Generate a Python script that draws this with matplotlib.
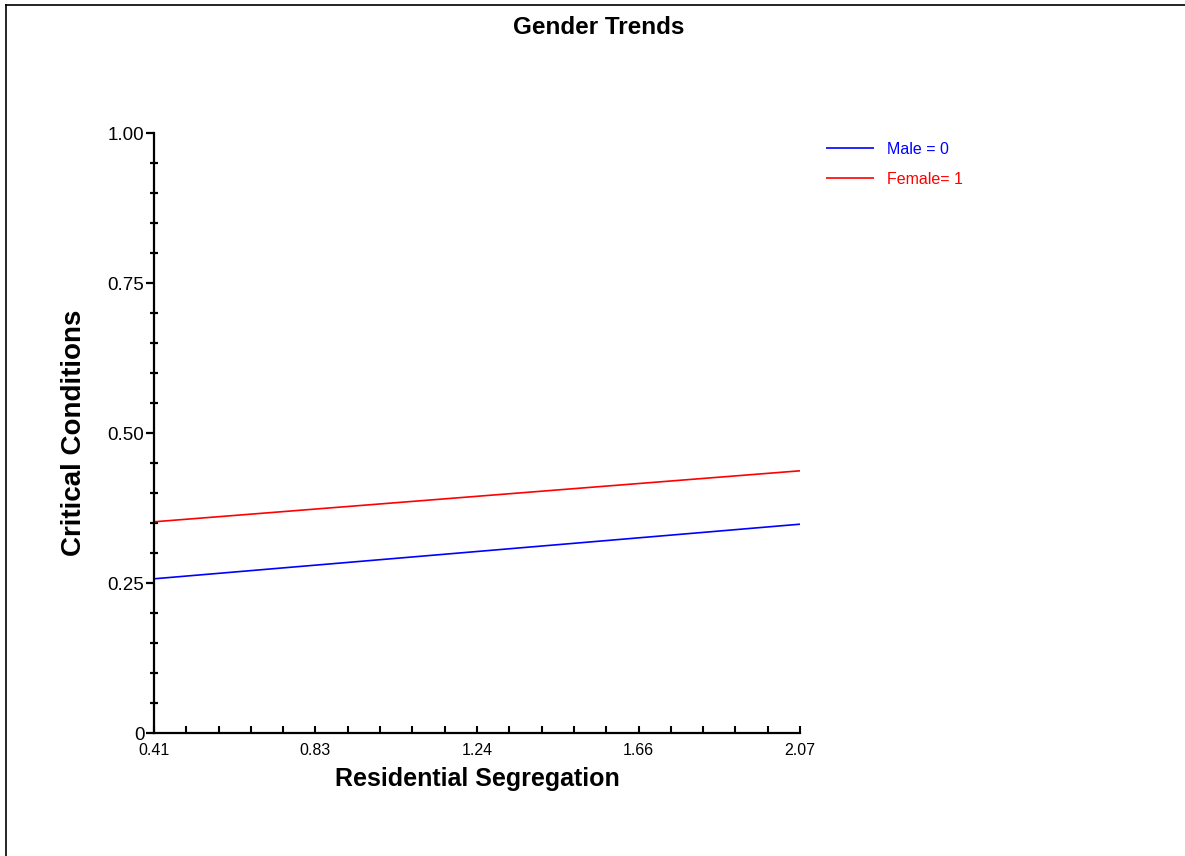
import matplotlib
matplotlib.use("Agg")
import matplotlib.pyplot as plt
from matplotlib.lines import Line2D
from matplotlib.ticker import FixedLocator, MultipleLocator

plt.rcParams['font.family'] = ['Liberation Sans', 'DejaVu Sans']

# Data
x_range = [0.41, 2.07]
male_vals = [0.257, 0.348]
female_vals = [0.352, 0.437]
series_labels = ["Male = 0", "Female= 1"]
series_colors = ["#0000ff", "#ff0000"]
x_ticks = [0.41, 0.825, 1.24, 1.655, 2.07]
x_ticklabels = ["0.41", "0.83", "1.24", "1.66", "2.07"]
y_ticks = [0, 0.25, 0.50, 0.75, 1.00]
y_ticklabels = ["0", "0.25", "0.50", "0.75", "1.00"]

W, H = 1185, 856
fig = plt.figure(figsize=(W / 100, H / 100), dpi=100)
ax = fig.add_axes([154 / W, (H - 733) / H, (800 - 154) / W, (733 - 133) / H])

lines = []
for vals, col, lab in zip([male_vals, female_vals], series_colors, series_labels):
    ln, = ax.plot(x_range, vals, color=col, lw=1.2, label=lab, solid_capstyle='butt')
    lines.append(ln)

ax.set_xlim(x_range[0], x_range[1])
ax.set_ylim(0, 1.0)

for s in ['top', 'right']:
    ax.spines[s].set_visible(False)
for s in ['left', 'bottom']:
    ax.spines[s].set_linewidth(1.6)

ax.xaxis.set_major_locator(FixedLocator(x_ticks))
ax.set_xticklabels(x_ticklabels, fontsize=11.5)
step = (x_range[1] - x_range[0]) / 20
ax.xaxis.set_minor_locator(FixedLocator(
    [x_range[0] + i * step for i in range(21) if i % 5 != 0]))
ax.tick_params(axis='x', which='both', direction='in', length=5, width=1.5, pad=7)

ax.yaxis.set_major_locator(FixedLocator(y_ticks))
ax.set_yticklabels(y_ticklabels, fontsize=13.5)
ax.yaxis.set_minor_locator(MultipleLocator(0.05))
ax.tick_params(axis='y', which='major', direction='out', length=6, width=1.6, pad=1)
ax.tick_params(axis='y', which='minor', direction='inout', length=6, width=1.6)

ax.set_xlabel("Residential Segregation", fontsize=18, fontweight='bold', labelpad=7)
ax.set_ylabel("Critical Conditions", fontsize=20, fontweight='bold', labelpad=15)

fig.text(599 / W, 1 - 27 / H, "Gender Trends", fontsize=17.5, fontweight='bold',
         ha='center', va='center')

leg = fig.legend(handles=lines, loc='upper left',
                 bbox_to_anchor=(826 / W, 1 - 142 / H), frameon=False,
                 fontsize=11.5, handlelength=3.0, handletextpad=0.85,
                 borderpad=0, borderaxespad=0, labelspacing=0.92)
for txt, col in zip(leg.get_texts(), series_colors):
    txt.set_color(col)

# Frame lines (top and left)
fig.add_artist(Line2D([6 / W, 1.0], [1 - 5 / H, 1 - 5 / H], color='black', lw=1.2,
                      transform=fig.transFigure))
fig.add_artist(Line2D([6 / W, 6 / W], [0, 1 - 5 / H], color='black', lw=1.2,
                      transform=fig.transFigure))

fig.savefig("out.png", dpi=100)
